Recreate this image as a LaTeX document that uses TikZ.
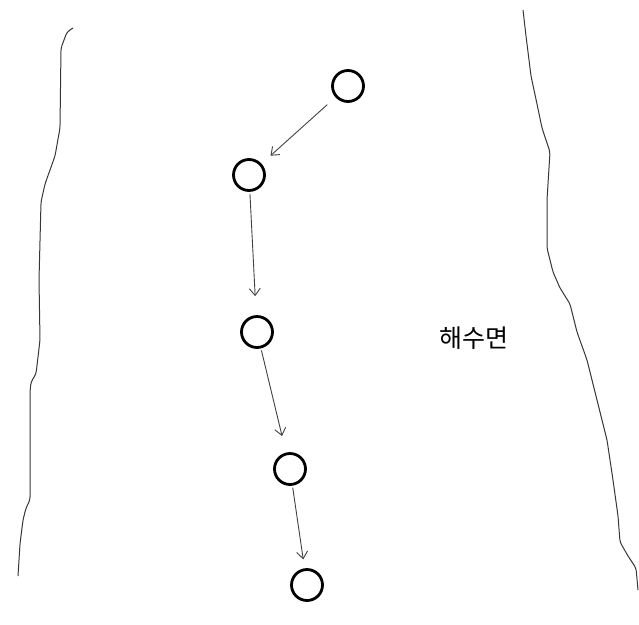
\documentclass[tikz,border=0pt]{standalone}
\usepackage{fontspec}
\newfontfamily\kofont{Noto Sans CJK KR}
\usetikzlibrary{arrows.meta}
\definecolor{shoreline}{RGB}{55,55,55}
\definecolor{driftgray}{RGB}{65,65,65}

\begin{document}
\begin{tikzpicture}[x=1pt,y=-1pt,
  buoy/.style={draw=black,line width=2.8pt,circle,minimum size=31pt,inner sep=0pt},
  drift/.style={driftgray,line width=0.9pt,-{Straight Barb[length=7pt,width=11pt]}}]
\useasboundingbox (0,0) rectangle (639,624);
\draw[shoreline,line width=1pt,rounded corners=3pt] (73,28) -- (67,32) -- (61,48) -- (60,128) -- (55,156) -- (50,170) -- (45,184) -- (41,202) -- (39,280) -- (40,340) -- (36,374) -- (31,382) -- (30,392) -- (30,500) -- (26,508) -- (23,520) -- (20,544) -- (18,576);
\draw[shoreline,line width=1pt,rounded corners=3pt] (523,10) -- (526,36) -- (531,76) -- (537,104) -- (542,128) -- (550,152) -- (547,200) -- (547,248) -- (553,272) -- (560,288) -- (570,304) -- (577,332) -- (587,360) -- (597,400) -- (607,440) -- (613,480) -- (618,516) -- (620,542) -- (628,556) -- (636,568) -- (638,590);
\node[buoy] (b1) at (348,86) {};
\node[buoy] (b2) at (249,175) {};
\node[buoy] (b3) at (257,332) {};
\node[buoy] (b4) at (290,469) {};
\node[buoy] (b5) at (307,585) {};
\draw[drift,shorten <=11pt,shorten >=12pt] (b1) -- (b2);
\draw[drift,shorten <=2pt,shorten >=19pt] (b2) -- (b3);
\draw[drift,shorten <=2pt,shorten >=17pt] (b3) -- (b4);
\draw[drift,shorten <=2pt,shorten >=9pt] (b4) -- (b5);
\node[font=\kofont\fontsize{25pt}{30pt}\selectfont] (sea) at (474,338) {해수면};
\end{tikzpicture}
\end{document}
